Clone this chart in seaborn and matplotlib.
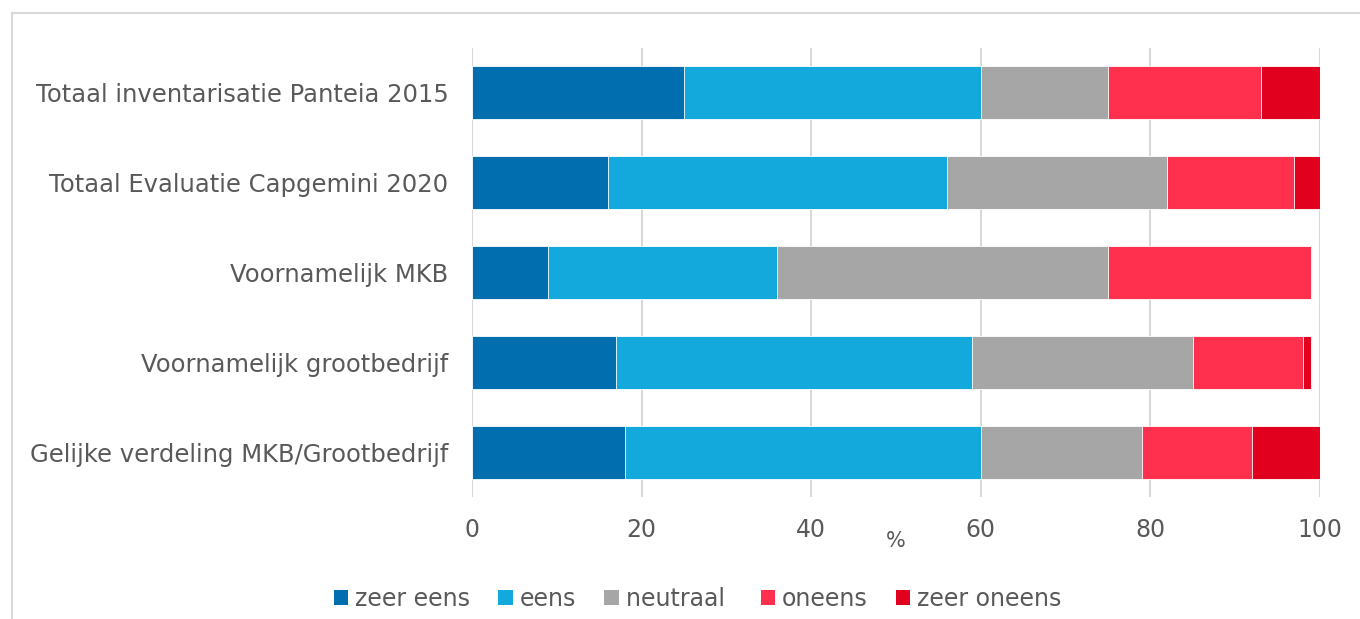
import numpy as np
import pandas as pd
import matplotlib
matplotlib.use("Agg")
import matplotlib.pyplot as plt
import seaborn as sns
from matplotlib.patches import Patch, Rectangle

groups = [
    "Totaal inventarisatie Panteia 2015",
    "Totaal Evaluatie Capgemini 2020",
    "Voornamelijk MKB",
    "Voornamelijk grootbedrijf",
    "Gelijke verdeling MKB/Grootbedrijf",
]
answers = ["zeer eens", "eens", "neutraal", "oneens", "zeer oneens"]

zeer_eens = [25, 16, 9, 17, 18]
eens = [35, 40, 27, 42, 42]
neutraal = [15, 26, 39, 26, 19]
oneens = [18, 15, 24, 13, 13]
zeer_oneens = [7, 3, 0, 1, 8]

colors = ["#006EAF", "#14A9DC", "#A6A6A6", "#FF304D", "#E2001F"]
text_color = "#595959"

sns.set_theme(style="white")
plt.rcParams["font.family"] = ["DejaVu Sans"]

df = pd.DataFrame({
    "groep": groups,
    "zeer eens": zeer_eens,
    "eens": eens,
    "neutraal": neutraal,
    "oneens": oneens,
    "zeer oneens": zeer_oneens,
})
cum = df[answers].cumsum(axis=1)
cum["groep"] = df["groep"]

fig = plt.figure(figsize=(13.6, 6.19), dpi=100)
ax = fig.add_axes([0.347, 0.197, 0.6235, 0.7254])

# stacked bars: draw cumulative totals from the outside in
for name, col in reversed(list(zip(answers, colors))):
    sns.barplot(data=cum, x=name, y="groep", color=col, orient="h",
                width=0.59, ax=ax, edgecolor="white", linewidth=0.6,
                saturation=1)

ax.set_xlim(0, 100)
ax.set_xticks([0, 20, 40, 60, 80, 100])
ax.set_ylim(4.5, -0.5)
ax.set_axisbelow(True)
ax.grid(axis="x", color="#D9D9D9", linewidth=1.5)
ax.grid(axis="y", visible=False)
for s in ax.spines.values():
    s.set_visible(False)
ax.tick_params(axis="y", length=0, pad=17, labelsize=17.5, labelcolor=text_color)
ax.tick_params(axis="x", length=0, pad=15, labelsize=17, labelcolor=text_color)
ax.set_ylabel("")
ax.set_xlabel("%", fontsize=15, color=text_color)
ax.xaxis.set_label_coords(0.5, -0.076)

handles = [Patch(facecolor=c, edgecolor="none") for c in colors]
labels = ["zeer eens", "eens", "neutraal ", "oneens", "zeer oneens"]
fig.legend(handles, labels, loc="center", bbox_to_anchor=(0.513, 0.032),
           ncol=5, frameon=False, fontsize=17, labelcolor=text_color,
           handlelength=0.6, handleheight=0.6, handletextpad=0.3,
           columnspacing=1.2)

fig.patches.append(Rectangle((12 / 1360, -0.1), 1.2, 1 - 13 / 619 + 0.1,
                             transform=fig.transFigure, fill=False,
                             edgecolor="#D9D9D9", linewidth=1.5))

fig.savefig("out.png", dpi=100)
